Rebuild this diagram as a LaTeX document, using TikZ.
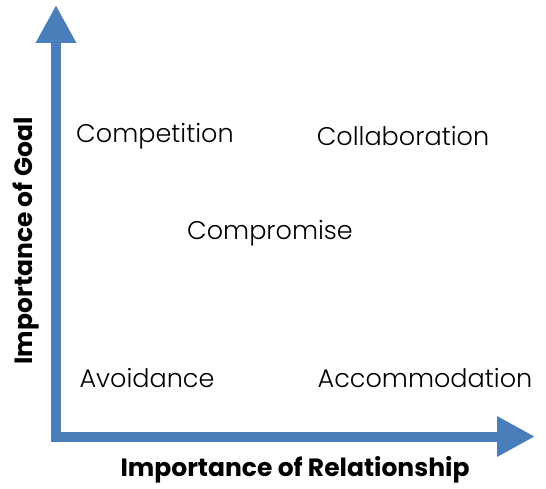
\documentclass[tikz,border=0pt]{standalone}
\usepackage{fontspec}
\setmainfont{Poppins}
\newfontfamily\lightfont{Poppins Light}
\usetikzlibrary{arrows.meta,shadows}
\definecolor{axisblue}{RGB}{74,126,187}

\begin{document}
\begin{tikzpicture}[
        x=1pt, y=-1pt,
        axis/.style={draw=axisblue, line width=10pt, -{Triangle[length=38pt, width=38pt]},
            drop shadow={shadow xshift=2pt, shadow yshift=-2pt, opacity=0.25}},
        style/.style={font=\lightfont\fontsize{25.5}{28}\selectfont, text=black},
        axlabel/.style={font=\fontsize{25}{28}\selectfont\bfseries}
    ]
    \useasboundingbox (0,0) rectangle (546,489);

    % Axis end points
    \coordinate (O) at (51,436.5);
    \coordinate (yorig) at (56,441);
    \coordinate (ytip) at (56,5);
    \coordinate (xtip) at (535,436.5);

    % Axes
    \draw[axis] (yorig) -- (ytip);
    \draw[axis] (O) -- (xtip);

    % Axis labels
    \node[axlabel, rotate=90] (goal) at (26,241) {Importance of Goal};
    \node[axlabel] (rel) at (295,470) {Importance of Relationship};

    % Conflict styles
    \node[style] (compet) at (155,136) {Competition};
    \node[style] (collab) at (403,136) {Collaboration};
    \node[style] (compro) at (270,233) {Compromise};
    \node[style] (avoid) at (147,378) {Avoidance};
    \node[style] (accom) at (425,378) {Accommodation};

\end{tikzpicture}
\end{document}
